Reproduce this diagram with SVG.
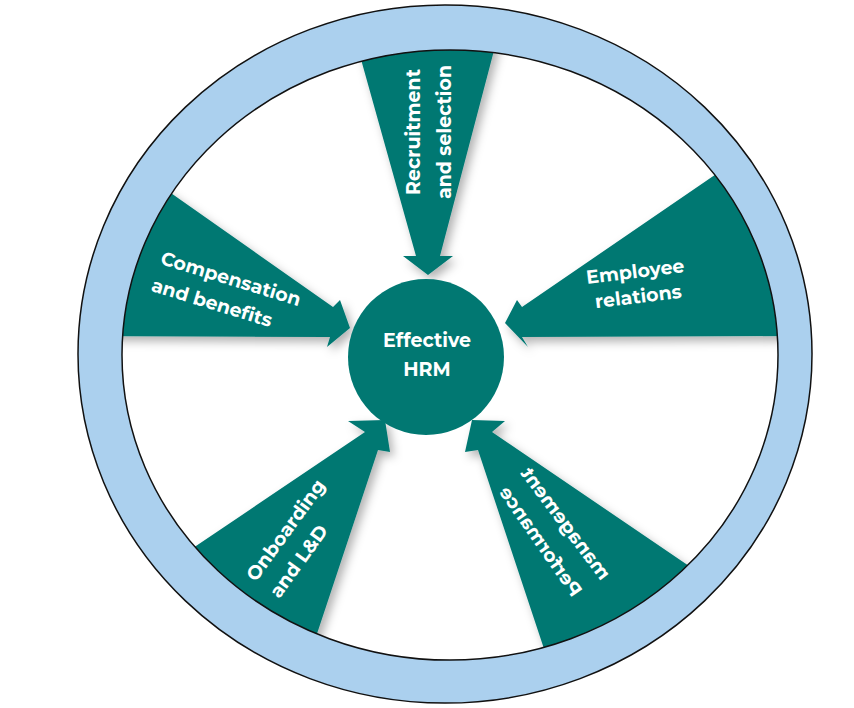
<svg xmlns="http://www.w3.org/2000/svg" width="854" height="708" viewBox="0 0 854 708">
<defs>
<filter id="sh" x="-20%" y="-20%" width="140%" height="140%"><feDropShadow dx="4" dy="5" stdDeviation="5" flood-color="#000" flood-opacity="0.3"/></filter>
<clipPath id="cl"><ellipse cx="445" cy="354" rx="360" ry="342"/></clipPath>
<style>
.w{fill:#017872;filter:url(#sh)}
.t{fill:#fff;font-family:Montserrat,"Open Sans",sans-serif;font-weight:bold;font-size:19px;text-anchor:middle}
</style>
</defs>
<rect width="854" height="708" fill="#fff"/>
<g id="connectors" clip-path="url(#cl)">
<polygon id="w-top" class="w" points="350,20 502,20 440,256 453,256 428,275 403,256 416,256"/>
<polygon id="w-left" class="w" points="121,158 333,307 340,300 350,328 327,347 330,337 60,336"/>
<polygon id="w-right" class="w" points="744,155 522,307 517,300 505,323 528,347 522,337 800,336"/>
<polygon id="w-bl" class="w" points="141,583 365,432 348,421 385,420 390,452 378,450 297,694"/>
<polygon id="w-br" class="w" points="714,583 492,432 505,421 472,420 465,452 478,450 559,694"/>
</g>
<g id="ring">
<path d="M78,354a367,349 0 1,0 734,0a367,349 0 1,0 -734,0Z M122,355a328,305 0 1,0 656,0a328,305 0 1,0 -656,0Z" fill="#abd0ee" fill-rule="evenodd" stroke="#111" stroke-width="1.5"/>
</g>
<g id="center"><circle cx="426" cy="357" r="78" fill="#017872"/>
<text class="t" x="427" y="347">Effective</text><text class="t" x="427" y="376">HRM</text></g>
<g id="n-top"><text class="t" transform="translate(420,132) rotate(-90)">Recruitment</text><text class="t" transform="translate(451,132) rotate(-90)">and selection</text></g>
<g id="n-left"><text class="t" transform="translate(229,285) rotate(17)">Compensation</text><text class="t" transform="translate(210,309) rotate(17)">and benefits</text></g>
<g id="n-right"><text class="t" transform="translate(636,278) rotate(-7)">Employee</text><text class="t" transform="translate(639,303) rotate(-7)">relations</text></g>
<g id="n-bl"><text class="t" transform="translate(291,534) rotate(-54)">Onboarding</text><text class="t" transform="translate(304,565) rotate(-54)">and L&amp;D</text></g>
<g id="n-br"><text class="t" y="7" transform="matrix(-0.57,-0.82,-0.82,0.57,541,541)">Performance</text><text class="t" y="7" transform="matrix(-0.6,-0.8,-0.8,0.6,566,523)">management</text></g>
</svg>
